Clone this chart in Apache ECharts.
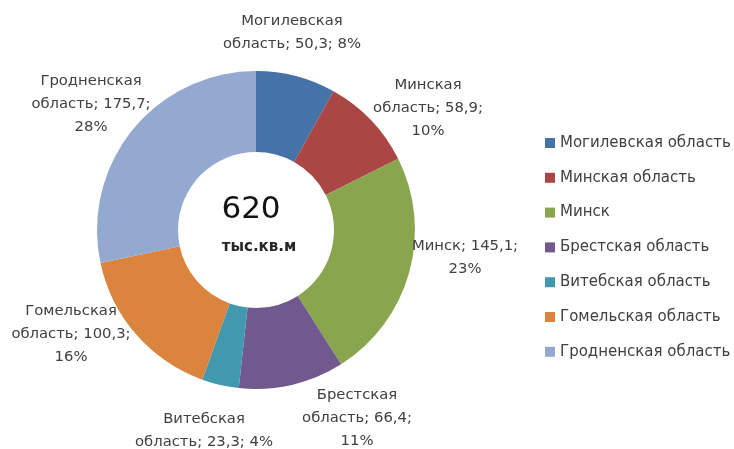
<!DOCTYPE html>
<html><head><meta charset="utf-8">
<script src="https://cdn.jsdelivr.net/npm/echarts@6/dist/echarts.min.js"></script>
<style>html,body{margin:0;padding:0;background:#fff}#c{width:734px;height:449px}</style>
</head><body><div id="c"></div>
<script>
const categories = ['Могилевская область','Минская область','Минск','Брестская область','Витебская область','Гомельская область','Гродненская область'];
const values = [50.3, 58.9, 145.1, 66.4, 23.3, 100.3, 175.7];
const colors = ['#4572A7','#AA4643','#89A54E','#71588F','#4198AF','#DB843D','#93A9CF'];
const totalLabel = '620';
const unitLabel = 'тыс.кв.м';
// label layout (line-break before percent, label block centres)
const pctOnNewLine = [false, true, true, true, false, true, true];
const labelPos = [[292,33],[428,108],[465,258],[357,418],[204,431],[71,334],[91,104]];

const total = values.reduce((a,b)=>a+b,0);
const fmt = v => String(v).replace('.', ',');
const chart = echarts.init(document.getElementById('c'));
const FONT = 'DejaVu Sans';
chart.setOption({
  animation:false,
  color: colors,
  legend:{
    orient:'vertical', left:545, top:135, padding:0,
    itemWidth:10, itemHeight:10, itemGap:18.8,
    icon:'rect',
    textStyle:{fontFamily:FONT, fontSize:15, lineHeight:16, color:'#404040'},
    data: categories
  },
  graphic:[
    {type:'text', style:{text:totalLabel, x:251, y:210, align:'center', verticalAlign:'middle', font:'31px "DejaVu Sans"', fill:'#111'}},
    {type:'text', style:{text:unitLabel, x:259, y:247, align:'center', verticalAlign:'middle', font:'bold 15px "DejaVu Sans"', fill:'#262626'}}
  ],
  series:[{
    type:'pie',
    center:[256,230],
    radius:[78,159],
    startAngle:90,
    clockwise:true,
    avoidLabelOverlap:false,
    itemStyle:{borderWidth:0},
    emphasis:{disabled:true},
    label:{
      show:true,
      position:'outside',
      fontFamily:FONT, fontSize:14.8, color:'#404040', lineHeight:23,
      align:'center',
      formatter: p => {
        const i = p.dataIndex;
        const nm = p.name.replace(' ', '\n');
        const pct = Math.round(p.value/total*100) + '%';
        return nm + '; ' + fmt(p.value) + ';' + (pctOnNewLine[i] ? '\n' : ' ') + pct;
      }
    },
    labelLine:{show:false},
    labelLayout: p => ({x:labelPos[p.dataIndex][0], y:labelPos[p.dataIndex][1], align:'center', verticalAlign:'middle'}),
    data: categories.map((c,i)=>({name:c, value:values[i]}))
  }]
});
</script></body></html>
